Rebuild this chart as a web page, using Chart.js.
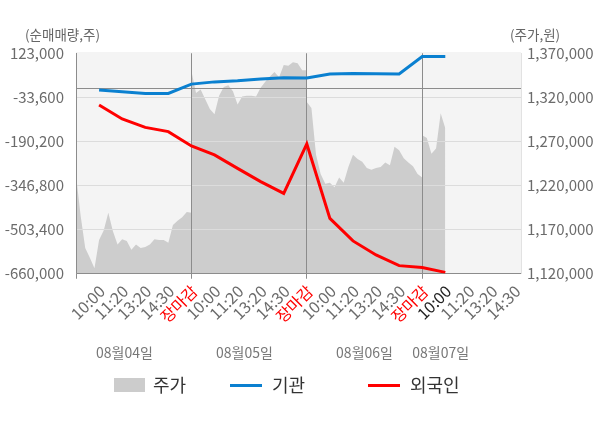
<!DOCTYPE html>
<html><head><meta charset="utf-8">
<script src="https://cdn.jsdelivr.net/npm/chart.js@4.4.0/dist/chart.umd.min.js"></script>
<style>html,body{margin:0;padding:0;background:#fff;}#wrap{width:600px;height:428px;}</style>
</head><body><div id="wrap"><canvas id="c" width="600" height="428"></canvas></div>
<script>
// ---------- data ----------
const dayLabels = ['08월04일', '08월05일', '08월06일', '08월07일'];
const xTickLabels = ['10:00','11:20','13:20','14:30','장마감',
                     '10:00','11:20','13:20','14:30','장마감',
                     '10:00','11:20','13:20','14:30','장마감',
                     '10:00','11:20','13:20','14:30'];
const leftTicks = [123000, -33600, -190200, -346800, -503400, -660000];
const rightTicks = [1370000, 1320000, 1270000, 1220000, 1170000, 1120000];
const seriesNames = ['주가', '기관', '외국인'];

const priceDay1 = [1232000, 1186000, 1149000, 1138000, 1126000, 1158000, 1169000, 1189000, 1168000, 1153000, 1159000, 1157000, 1147000, 1153000, 1149000, 1150000, 1153000, 1159000, 1158000, 1158000, 1155000, 1175000, 1180000, 1184000, 1190000, 1189000];
const priceDay2 = [1350000, 1325000, 1329000, 1318000, 1307000, 1301000, 1322000, 1332000, 1334000, 1327000, 1312000, 1321000, 1322000, 1322000, 1321000, 1331000, 1338000, 1344000, 1349000, 1343000, 1357000, 1356000, 1360000, 1359000, 1351000, 1351000];
const priceDay3 = [1315000, 1308000, 1255000, 1233000, 1222000, 1223000, 1218000, 1229000, 1223000, 1241000, 1255000, 1250000, 1247000, 1240000, 1238000, 1240000, 1241000, 1246000, 1243000, 1264000, 1260000, 1251000, 1246000, 1242000, 1233000, 1229000];
const priceDay4 = [1277000, 1274000, 1256000, 1262000, 1302000, 1285000];

const institution = [-7000, -13000, -19000, -19000, 14000, 22000, 26000, 32000, 37000, 36000, 50000, 52000, 51000, 50000, 112000, 112000];
const foreigner = [-60000, -110000, -140000, -155000, -206000, -238000, -286000, -333000, -375000, -199000, -464000, -544000, -594000, -632000, -639000, -656000];

// ---------- build ----------
const SLOTS_PER_DAY = 5;      // label slots per trading day
const SAMPLE_STEP = 0.2;      // price samples per slot
const priceDays = [priceDay1, priceDay2, priceDay3, priceDay4];
const pricePoints = [];
priceDays.forEach((arr, d) => arr.forEach((v, i) => pricePoints.push({x: d * SLOTS_PER_DAY + i * SAMPLE_STEP, y: v})));
const instPoints = institution.map((v, i) => ({x: i + 1, y: v}));
const forPoints = foreigner.map((v, i) => ({x: i + 1, y: v}));

const FONT = "'Noto Sans CJK KR', 'Noto Sans', sans-serif";
Chart.defaults.font.family = FONT;
const fmt = v => Number(v).toLocaleString('en-US');

const bgPlugin = {
  id: 'bg',
  beforeDraw(chart) {
    const a = chart.chartArea, ctx = chart.ctx;
    ctx.save(); ctx.fillStyle = '#f4f4f4';
    ctx.fillRect(a.left, a.top - 1.5, a.right - a.left, a.bottom - a.top + 1.5);
    ctx.restore();
  }
};
const gridOver = {
  id: 'gridOver',
  afterDatasetDraw(chart, args) {
    if (args.meta.index !== 0) return;
    chart.scales.y.drawGrid(chart.chartArea);
    chart.scales.x.drawGrid(chart.chartArea);
  }
};
const textPlugin = {
  id: 'texts',
  afterDraw(chart) {
    const ctx = chart.ctx, xs = chart.scales.x;
    ctx.save();
    ctx.font = '13.5px ' + FONT;
    ctx.fillStyle = '#666';
    ctx.textBaseline = 'middle';
    ctx.textAlign = 'right'; ctx.fillText('(순매매량,주)', 100, 35);
    ctx.textAlign = 'left'; ctx.fillText('(주가,원)', 510, 35);
    // date labels
    const dayLabelAt = [2.1, 7.3, 12.5, 15.8];
    ctx.font = '14px ' + FONT;
    ctx.textAlign = 'center'; ctx.fillStyle = '#777';
    dayLabels.forEach((t, i) => ctx.fillText(t, xs.getPixelForValue(dayLabelAt[i]), 353));
    // legend
    const ly = 385.5;
    ctx.font = '18px ' + FONT; ctx.textAlign = 'left';
    ctx.fillStyle = '#cccccc'; ctx.fillRect(114, 378, 31, 14);
    ctx.fillStyle = '#333'; ctx.fillText(seriesNames[0], 153, ly);
    ctx.lineWidth = 3;
    ctx.strokeStyle = '#0a80d0'; ctx.beginPath(); ctx.moveTo(230, ly); ctx.lineTo(262, ly); ctx.stroke();
    ctx.fillText(seriesNames[1], 272, ly);
    ctx.strokeStyle = '#ff0000'; ctx.beginPath(); ctx.moveTo(368, ly); ctx.lineTo(400, ly); ctx.stroke();
    ctx.fillText(seriesNames[2], 410, ly);
    ctx.restore();
  }
};

new Chart(document.getElementById('c'), {
  type: 'line',
  data: {
    datasets: [
      {label: seriesNames[0], data: pricePoints, yAxisID: 'y1', fill: 'start', backgroundColor: '#cdcdcd',
       borderWidth: 0, borderColor: 'rgba(0,0,0,0)', pointRadius: 0, tension: 0, order: 3},
      {label: seriesNames[1], data: instPoints, yAxisID: 'y', borderColor: '#0a80d0', borderWidth: 3,
       pointRadius: 0, fill: false, tension: 0, order: 2},
      {label: seriesNames[2], data: forPoints, yAxisID: 'y', borderColor: '#ff0000', borderWidth: 3,
       pointRadius: 0, fill: false, tension: 0, order: 1}
    ]
  },
  options: {
    responsive: false, animation: false,
    layout: {padding: {top: 53.5, left: 0, right: 0, bottom: 0}},
    plugins: {legend: {display: false}, tooltip: {enabled: false}},
    scales: {
      x: {
        type: 'linear', min: 0, max: 19.28,
        afterBuildTicks: s => { s.ticks = [{value: 0}].concat(xTickLabels.map((l, i) => ({value: i + 1}))); },
        afterFit: s => { s.height = 154.5; },
        grid: {
          drawOnChartArea: true, tickLength: 5, lineWidth: 1,
          color: c => (c.tick && c.tick.value % SLOTS_PER_DAY === 0) ? '#8c8c8c' : 'rgba(0,0,0,0)'
        },
        border: {color: '#8c8c8c'},
        ticks: {
          autoSkip: false, maxRotation: 45, minRotation: 45, padding: 3, labelOffset: 3,
          font: {size: 16},
          callback: v => v === 0 ? '' : xTickLabels[v - 1],
          color: c => {
            const v = c.tick ? c.tick.value : 0;
            const l = xTickLabels[v - 1];
            if (l === '장마감') return '#ff0000';
            if (v === 16) return '#222';
            return '#6b6b6b';
          }
        }
      },
      y: {
        position: 'left', min: -660000, max: 123000,
        afterBuildTicks: s => { s.ticks = leftTicks.concat([0]).sort((a, b) => a - b).map(v => ({value: v})); },
        afterFit: s => { s.width = 76; },
        grid: {
          drawTicks: false,
          color: c => {
            const v = c.tick ? c.tick.value : null;
            if (v === 0 || v === -660000) return '#8c8c8c';
            if (v === 123000) return 'rgba(0,0,0,0)';
            return '#dcdcdc';
          }
        },
        border: {color: '#8c8c8c'},
        ticks: {autoSkip: false, padding: 12, font: {size: 15}, color: '#6b6b6b',
                callback: v => v === 0 ? '' : fmt(v)}
      },
      y1: {
        position: 'right', min: 1120000, max: 1370000,
        afterBuildTicks: s => { s.ticks = rightTicks.slice().sort((a, b) => a - b).map(v => ({value: v})); },
        afterFit: s => { s.width = 79; },
        grid: {drawOnChartArea: false, drawTicks: false},
        border: {color: '#e2e2e2'},
        ticks: {autoSkip: false, padding: 6, font: {size: 15}, color: '#6b6b6b', callback: v => fmt(v)}
      }
    }
  },
  plugins: [bgPlugin, gridOver, textPlugin]
});
</script>
</body></html>
